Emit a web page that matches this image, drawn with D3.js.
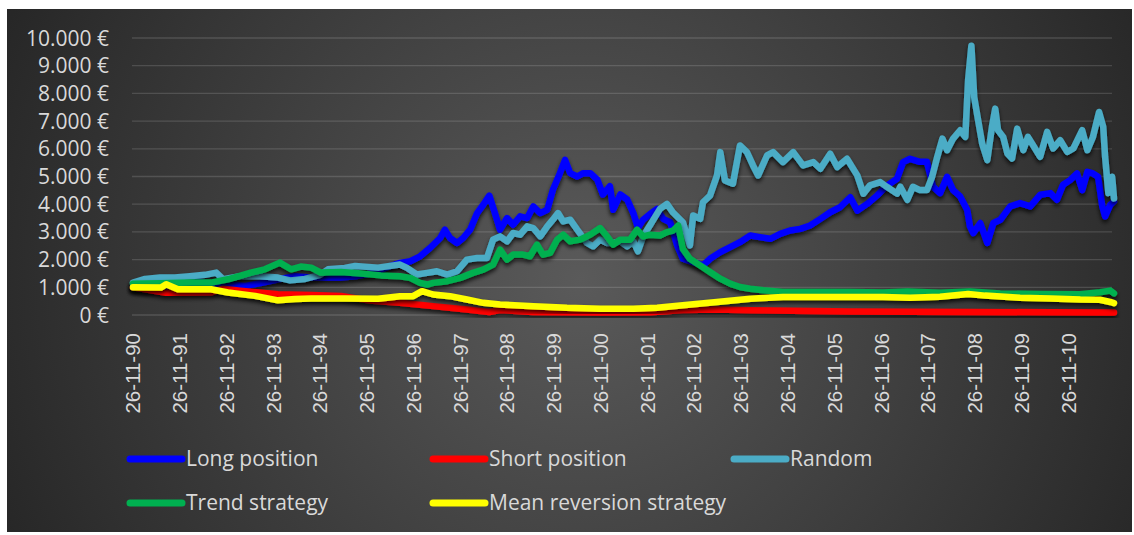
<!DOCTYPE html>
<html>
<head>
<meta charset="utf-8">
<script src="https://cdn.jsdelivr.net/npm/d3@7"></script>
<style>
  html, body { margin: 0; padding: 0; background: #ffffff; }
  svg { display: block; }
</style>
</head>
<body>
<svg id="chart"></svg>
<script>
// values: [year, value in €]
const longPosition = [
  [1990.90,1000],[1991.16,950],[1991.48,1000],[1991.80,1050],[1992.12,1150],[1992.33,1200],
  [1992.65,1100],[1992.98,1100],[1993.30,1050],[1993.62,1150],[1994.04,1300],[1994.37,1400],
  [1994.69,1350],[1995.01,1350],[1995.33,1350],[1995.65,1400],[1995.97,1500],[1996.29,1700],
  [1996.61,1880],[1996.83,1940],[1997.04,2120],[1997.25,2420],[1997.47,2780],[1997.57,3080],
  [1997.68,2780],[1997.83,2600],[1997.96,2780],[1998.11,3080],[1998.26,3680],[1998.39,3980],
  [1998.52,4310],[1998.64,3680],[1998.75,3080],[1998.90,3500],[1999.03,3260],[1999.18,3560],
  [1999.33,3500],[1999.46,3920],[1999.61,3680],[1999.76,3800],[1999.88,4520],[2000.03,5120],
  [2000.14,5600],[2000.25,5120],[2000.40,5000],[2000.53,5120],[2000.68,5120],[2000.83,4890],
  [2000.95,4350],[2001.10,4650],[2001.17,3800],[2001.32,4350],[2001.47,4170],[2001.60,3680],
  [2001.70,3150],[2001.81,3440],[2001.96,3650],[2002.11,3830],[2002.24,3470],[2002.39,3350],
  [2002.54,2510],[2002.66,2030],[2002.88,1910],[2003.09,1790],[2003.24,2030],[2003.46,2270],
  [2003.67,2450],[2003.88,2630],[2004.10,2870],[2004.31,2810],[2004.53,2750],[2004.74,2930],
  [2004.95,3050],[2005.17,3110],[2005.38,3230],[2005.60,3470],[2005.81,3710],[2006.02,3890],
  [2006.24,4250],[2006.39,3770],[2006.60,4010],[2006.81,4310],[2007.03,4680],[2007.24,4920],
  [2007.37,5520],[2007.52,5640],[2007.73,5530],[2007.88,5530],[2008.01,4630],[2008.16,4400],
  [2008.31,4990],[2008.44,4510],[2008.59,4280],[2008.74,3800],[2008.80,3200],[2008.87,2960],
  [2009.02,3320],[2009.17,2600],[2009.30,3320],[2009.45,3440],[2009.66,3920],[2009.87,4040],
  [2010.09,3920],[2010.30,4340],[2010.52,4400],[2010.66,4160],[2010.79,4700],[2010.94,4870],
  [2011.09,5110],[2011.20,4510],[2011.31,5170],[2011.43,5110],[2011.54,4990],[2011.63,3920],
  [2011.69,3560],[2011.80,3980],[2011.88,4100]
];

const shortPosition = [
  [1990.90,1000],[1991.26,900],[1991.61,800],[1992.57,820],[1992.83,950],[1993.19,880],
  [1994.00,750],[1994.71,720],[1995.35,690],[1995.97,520],[1996.61,440],[1997.32,320],
  [1998.04,200],[1998.52,110],[1998.75,180],[1999.46,110],[2000.89,90],[2001.96,100],
  [2002.66,180],[2003.39,200],[2004.10,170],[2006.24,130],[2008.80,110],[2010.52,100],
  [2011.88,90]
];

const randomStrategy = [
  [1990.90,1170],[1991.16,1300],[1991.48,1350],[1991.80,1350],[1992.12,1400],[1992.44,1450],
  [1992.68,1530],[1992.83,1290],[1993.19,1400],[1993.62,1400],[1994.00,1350],[1994.26,1250],
  [1994.58,1300],[1994.90,1450],[1995.07,1650],[1995.43,1700],[1995.65,1770],[1996.14,1710],
  [1996.61,1820],[1996.76,1700],[1996.97,1460],[1997.19,1520],[1997.40,1580],[1997.62,1460],
  [1997.83,1580],[1998.04,2000],[1998.26,2060],[1998.47,2060],[1998.60,2720],[1998.75,2840],
  [1998.90,2660],[1999.03,2960],[1999.18,2900],[1999.33,3200],[1999.46,3140],[1999.61,2840],
  [1999.76,3200],[1999.88,3440],[1999.99,3680],[2000.10,3380],[2000.25,3440],[2000.40,3080],
  [2000.61,2600],[2000.74,2480],[2000.89,2720],[2001.04,2600],[2001.17,2600],[2001.32,2660],
  [2001.47,2480],[2001.60,2660],[2001.70,2300],[2001.81,2840],[2001.96,3250],[2002.17,3830],
  [2002.32,4010],[2002.45,3700],[2002.66,3350],[2002.81,2510],[2002.88,3590],[2003.03,3470],
  [2003.09,4070],[2003.24,4310],[2003.39,5040],[2003.46,5880],[2003.56,4860],[2003.73,4740],
  [2003.88,6120],[2004.03,5880],[2004.16,5400],[2004.27,5040],[2004.46,5760],[2004.59,5880],
  [2004.80,5520],[2005.02,5880],[2005.23,5400],[2005.45,5520],[2005.60,5280],[2005.81,5820],
  [2005.96,5340],[2006.17,5640],[2006.39,5040],[2006.52,4380],[2006.66,4680],[2006.88,4800],
  [2007.03,4620],[2007.24,4380],[2007.31,4630],[2007.46,4160],[2007.58,4630],[2007.73,4510],
  [2007.88,4510],[2007.99,4990],[2008.10,5710],[2008.21,6370],[2008.31,5950],[2008.44,6370],
  [2008.59,6670],[2008.70,6430],[2008.76,8470],[2008.83,9720],[2008.89,7870],[2008.95,7270],
  [2009.06,6190],[2009.17,5590],[2009.27,6790],[2009.34,7450],[2009.40,6670],[2009.51,6430],
  [2009.60,5830],[2009.70,5650],[2009.81,6730],[2009.94,5950],[2010.04,6430],[2010.15,6130],
  [2010.30,5710],[2010.45,6610],[2010.58,6010],[2010.73,6310],[2010.88,5890],[2011.01,6010],
  [2011.20,6670],[2011.31,5950],[2011.43,6430],[2011.56,7330],[2011.65,6790],[2011.69,5710],
  [2011.76,4400],[2011.84,4990],[2011.88,4210]
];

const trendStrategy = [
  [1990.90,1130],[1991.48,1150],[1992.12,1170],[1992.57,1170],[1992.93,1290],[1993.42,1530],
  [1993.72,1650],[1994.04,1890],[1994.28,1650],[1994.49,1750],[1994.71,1710],[1994.92,1530],
  [1995.35,1550],[1995.78,1500],[1996.20,1430],[1996.61,1400],[1996.83,1340],[1997.04,1160],
  [1997.19,1100],[1997.32,1160],[1997.62,1220],[1997.90,1340],[1998.17,1520],[1998.39,1640],
  [1998.60,1820],[1998.75,2360],[1998.90,2000],[1999.03,2180],[1999.24,2180],[1999.39,2120],
  [1999.54,2540],[1999.67,2180],[1999.82,2240],[1999.97,2720],[2000.10,2900],[2000.25,2660],
  [2000.46,2720],[2000.68,2900],[2000.89,3140],[2001.04,2840],[2001.17,2540],[2001.32,2720],
  [2001.53,2720],[2001.68,3080],[2001.81,2840],[2001.96,2900],[2002.17,2870],[2002.32,2990],
  [2002.45,3050],[2002.56,3230],[2002.66,2390],[2002.81,2030],[2003.03,1790],[2003.24,1550],
  [2003.46,1310],[2003.67,1130],[2003.88,1010],[2004.10,950],[2004.38,890],[2004.80,830],
  [2005.53,830],[2006.24,830],[2006.94,810],[2007.46,850],[2008.16,800],[2008.80,850],
  [2009.45,780],[2010.30,760],[2011.16,750],[2011.58,820],[2011.80,880],[2011.88,780]
];

const meanReversion = [
  [1990.90,1000],[1991.50,990],[1991.61,1110],[1991.86,930],[1992.57,930],[1992.93,810],
  [1993.51,690],[1994.00,530],[1994.37,580],[1994.71,600],[1995.43,600],[1996.14,590],
  [1996.61,680],[1996.89,680],[1997.08,860],[1997.32,740],[1997.68,680],[1998.04,560],
  [1998.39,440],[1998.75,380],[1999.46,320],[2000.18,260],[2000.89,230],[2001.60,230],
  [2002.11,260],[2002.66,350],[2003.39,470],[2004.10,590],[2004.80,650],[2005.53,650],
  [2006.24,650],[2006.94,650],[2007.52,620],[2008.16,660],[2008.76,760],[2009.12,700],
  [2009.87,620],[2010.52,600],[2011.16,560],[2011.58,550],[2011.80,470],[2011.88,430]
];

const seriesNames = ["Long position", "Short position", "Random", "Trend strategy", "Mean reversion strategy"];
const seriesColors = ["#0000ff", "#ff0000", "#4bacc6", "#00b050", "#ffff00"];
const seriesData = [longPosition, shortPosition, randomStrategy, trendStrategy, meanReversion];

const xTickLabels = ["26-11-90","26-11-91","26-11-92","26-11-93","26-11-94","26-11-95","26-11-96",
  "26-11-97","26-11-98","26-11-99","26-11-00","26-11-01","26-11-02","26-11-03","26-11-04",
  "26-11-05","26-11-06","26-11-07","26-11-08","26-11-09","26-11-10"];
const yTicks = [0,1000,2000,3000,4000,5000,6000,7000,8000,9000,10000];

const width = 1134, height = 535;
const svg = d3.select("#chart").attr("width", width).attr("height", height);

// background panel with radial gradient
const defs = svg.append("defs");
const grad = defs.append("radialGradient")
    .attr("id", "bg")
    .attr("gradientUnits", "userSpaceOnUse")
    .attr("cx", 580).attr("cy", 280).attr("r", 640);
grad.append("stop").attr("offset", "0%").attr("stop-color", "#5a5a5a");
grad.append("stop").attr("offset", "100%").attr("stop-color", "#262626");

const shadow = defs.append("filter").attr("id", "shadow")
    .attr("x", "-5%").attr("y", "-20%").attr("width", "110%").attr("height", "140%");
shadow.append("feDropShadow")
    .attr("dx", 0).attr("dy", 3).attr("stdDeviation", 2.2)
    .attr("flood-color", "#000").attr("flood-opacity", 0.75);

svg.append("rect")
    .attr("x", 7).attr("y", 9)
    .attr("width", 1125).attr("height", 523)
    .attr("fill", "url(#bg)");

const x = d3.scaleLinear().domain([1990.90, 2011.88]).range([133, 1114]);
const y = d3.scaleLinear().domain([0, 10000]).range([315, 38]);

const euro = d3.formatLocale({ decimal: ",", thousands: ".", grouping: [3], currency: ["", " €"] });
const fmt = euro.format(",");

// gridlines
svg.append("g")
    .selectAll("line")
    .data(yTicks)
    .enter()
    .append("line")
    .attr("x1", 132).attr("x2", 1112)
    .attr("y1", d => y(d)).attr("y2", d => y(d))
    .attr("stroke", "#ffffff")
    .attr("stroke-opacity", 0.14)
    .attr("stroke-width", 1.3);

// y labels
svg.append("g")
    .selectAll("text")
    .data(yTicks)
    .enter()
    .append("text")
    .attr("x", 109)
    .attr("y", d => y(d))
    .attr("dy", "0.36em")
    .attr("text-anchor", "end")
    .attr("fill", "#d9d9d9")
    .attr("font-family", "Open Sans, sans-serif")
    .attr("font-size", "21px")
    .text(d => fmt(d) + " €");

// x labels (rotated)
svg.append("g")
    .selectAll("text")
    .data(xTickLabels)
    .enter()
    .append("text")
    .attr("transform", (d, i) => `translate(${x(1990.90 + i)},333) rotate(-90)`)
    .attr("dy", "0.36em")
    .attr("text-anchor", "end")
    .attr("fill", "#d9d9d9")
    .attr("font-family", "Liberation Sans, Arial, sans-serif")
    .attr("font-size", "20.5px")
    .text(d => d);

// lines
const line = d3.line()
    .x(d => x(d[0]))
    .y(d => y(d[1]))
    .curve(d3.curveLinear);

svg.append("g")
    .selectAll("path")
    .data(seriesData)
    .enter()
    .append("path")
    .attr("d", d => line(d))
    .attr("fill", "none")
    .attr("stroke", (d, i) => seriesColors[i])
    .attr("stroke-width", 6.5)
    .attr("stroke-linejoin", "round")
    .attr("stroke-linecap", "round")
    .attr("filter", "url(#shadow)");

// legend
const legendPos = [
    { x: 127, y: 459 }, { x: 430, y: 459 }, { x: 731, y: 459 },
    { x: 127, y: 503 }, { x: 430, y: 503 }
];
const legend = svg.append("g")
    .selectAll("g")
    .data(seriesNames)
    .enter()
    .append("g")
    .attr("transform", (d, i) => `translate(${legendPos[i].x},${legendPos[i].y})`);

legend.append("line")
    .attr("x1", 3).attr("x2", 55)
    .attr("y1", 0).attr("y2", 0)
    .attr("stroke", (d, i) => seriesColors[i])
    .attr("stroke-width", 7)
    .attr("stroke-linecap", "round");

legend.append("text")
    .attr("x", 59)
    .attr("dy", "0.35em")
    .attr("fill", "#d9d9d9")
    .attr("font-family", "Open Sans, sans-serif")
    .attr("font-size", "21px")
    .text(d => d);
</script>
</body>
</html>
